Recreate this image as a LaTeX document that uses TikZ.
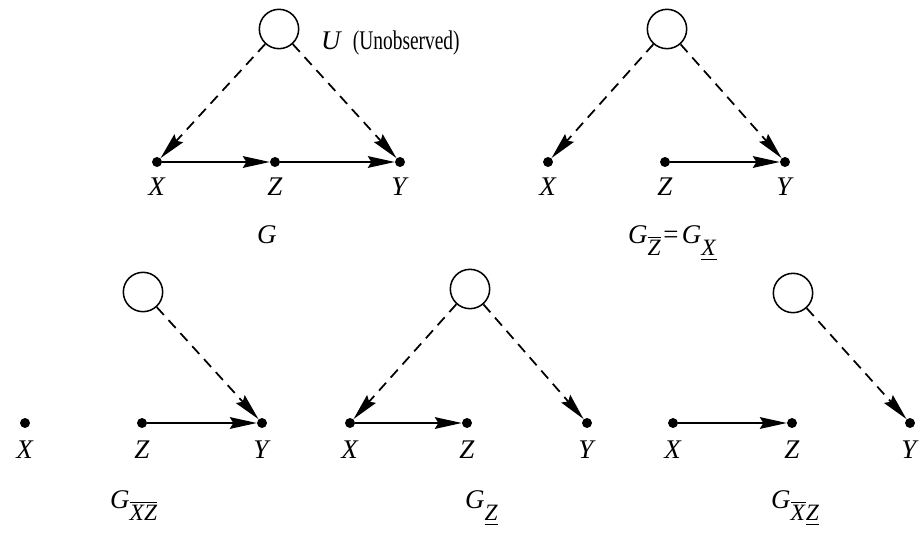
\documentclass[tikz,border=0pt]{standalone}
\usepackage{amsmath}
\usepackage{graphicx}
\usepackage{fontspec}
\setmainfont{Liberation Serif}
\usetikzlibrary{arrows.meta}
\newcommand{\vn}[1]{\textit{#1}}
\newcommand{\ovl}[1]{$\overline{\hbox{#1}}$}
\newcommand{\unl}[1]{$\underline{\hbox{#1}}$}
\newcommand{\gsub}[1]{\vn{G}\raisebox{-11pt}{\fontsize{20}{23}\selectfont #1}}

\begin{document}
\begin{tikzpicture}[x=0.03cm, y=-0.03cm,
    obs/.style={circle, fill, inner sep=0pt, minimum size=8.5pt},
    latent/.style={circle, draw, line width=1.3pt, minimum size=1.18cm, inner sep=0pt},
    lab/.style={font=\fontsize{23}{27}\selectfont, inner sep=0pt, anchor=base},
    gname/.style={font=\fontsize{23}{27}\selectfont, inner sep=0pt, anchor=base west},
    arrow/.style={-{Stealth[length=23pt, width=10pt, inset=3pt]}, line width=1.5pt},
    hidden/.style={arrow, dash pattern=on 9pt off 6pt}
  ]
    \useasboundingbox (0,0) rectangle (922,535);

    % G
    \node[latent] (u1) at (279,29) {};
    \node[gname] (ulab) at (321,50)
      {\vn{U}\hspace{0.4em}\scalebox{0.72}[1]{(Unobserved)}};
    \node[obs] (x1) at (157,162) {};
    \node[obs] (z1) at (275,162) {};
    \node[obs] (y1) at (400,162) {};
    \node[lab] (lx1) at (157,195) {\vn{X}};
    \node[lab] (lz1) at (275,195) {\vn{Z}};
    \node[lab] (ly1) at (400,195) {\vn{Y}};
    \node[gname] (g1) at (257,243) {\vn{G}};
    \draw[arrow] (x1) -- (z1);
    \draw[arrow] (z1) -- (y1);
    \draw[hidden] (u1) -- (x1);
    \draw[hidden] (u1) -- (y1);

    % G with Z overlined = G with X underlined
    \node[latent] (u2) at (667,29) {};
    \node[obs] (x2) at (548,162) {};
    \node[obs] (z2) at (665,162) {};
    \node[obs] (y2) at (785,162) {};
    \node[lab] (lx2) at (548,195) {\vn{X}};
    \node[lab] (lz2) at (665,195) {\vn{Z}};
    \node[lab] (ly2) at (785,195) {\vn{Y}};
    \node[gname] (g2) at (628,243)
      {\gsub{\ovl{\vn{Z}}}\hspace{2pt}=\hspace{3pt}\gsub{\unl{\vn{X}}}};
    \draw[arrow] (z2) -- (y2);
    \draw[hidden] (u2) -- (x2);
    \draw[hidden] (u2) -- (y2);

    % G with XZ overlined
    \node[latent] (u3) at (143,292) {};
    \node[obs] (x3) at (25,423) {};
    \node[obs] (z3) at (142,423) {};
    \node[obs] (y3) at (262,423) {};
    \node[lab] (lx3) at (25,458) {\vn{X}};
    \node[lab] (lz3) at (142,458) {\vn{Z}};
    \node[lab] (ly3) at (262,458) {\vn{Y}};
    \node[gname] (g3) at (110,508) {\gsub{\ovl{\vn{XZ}}}};
    \draw[arrow] (z3) -- (y3);
    \draw[hidden] (u3) -- (y3);

    % G with Z underlined
    \node[latent] (u4) at (470,289) {};
    \node[obs] (x4) at (350,423) {};
    \node[obs] (z4) at (467,423) {};
    \node[obs] (y4) at (587,423) {};
    \node[lab] (lx4) at (350,458) {\vn{X}};
    \node[lab] (lz4) at (467,458) {\vn{Z}};
    \node[lab] (ly4) at (587,458) {\vn{Y}};
    \node[gname] (g4) at (465,508) {\gsub{\unl{\vn{Z}}}};
    \draw[arrow] (x4) -- (z4);
    \draw[hidden] (u4) -- (x4);
    \draw[hidden] (u4) -- (y4);

    % G with X overlined, Z underlined
    \node[latent] (u5) at (793,293) {};
    \node[obs] (x5) at (673,423) {};
    \node[obs] (z5) at (792,423) {};
    \node[obs] (y5) at (910,423) {};
    \node[lab] (lx5) at (673,458) {\vn{X}};
    \node[lab] (lz5) at (792,458) {\vn{Z}};
    \node[lab] (ly5) at (910,458) {\vn{Y}};
    \node[gname] (g5) at (771,508) {\gsub{\ovl{\vn{X}}\unl{\vn{Z}}}};
    \draw[arrow] (x5) -- (z5);
    \draw[hidden] (u5) -- (y5);
  \end{tikzpicture}
\end{document}
